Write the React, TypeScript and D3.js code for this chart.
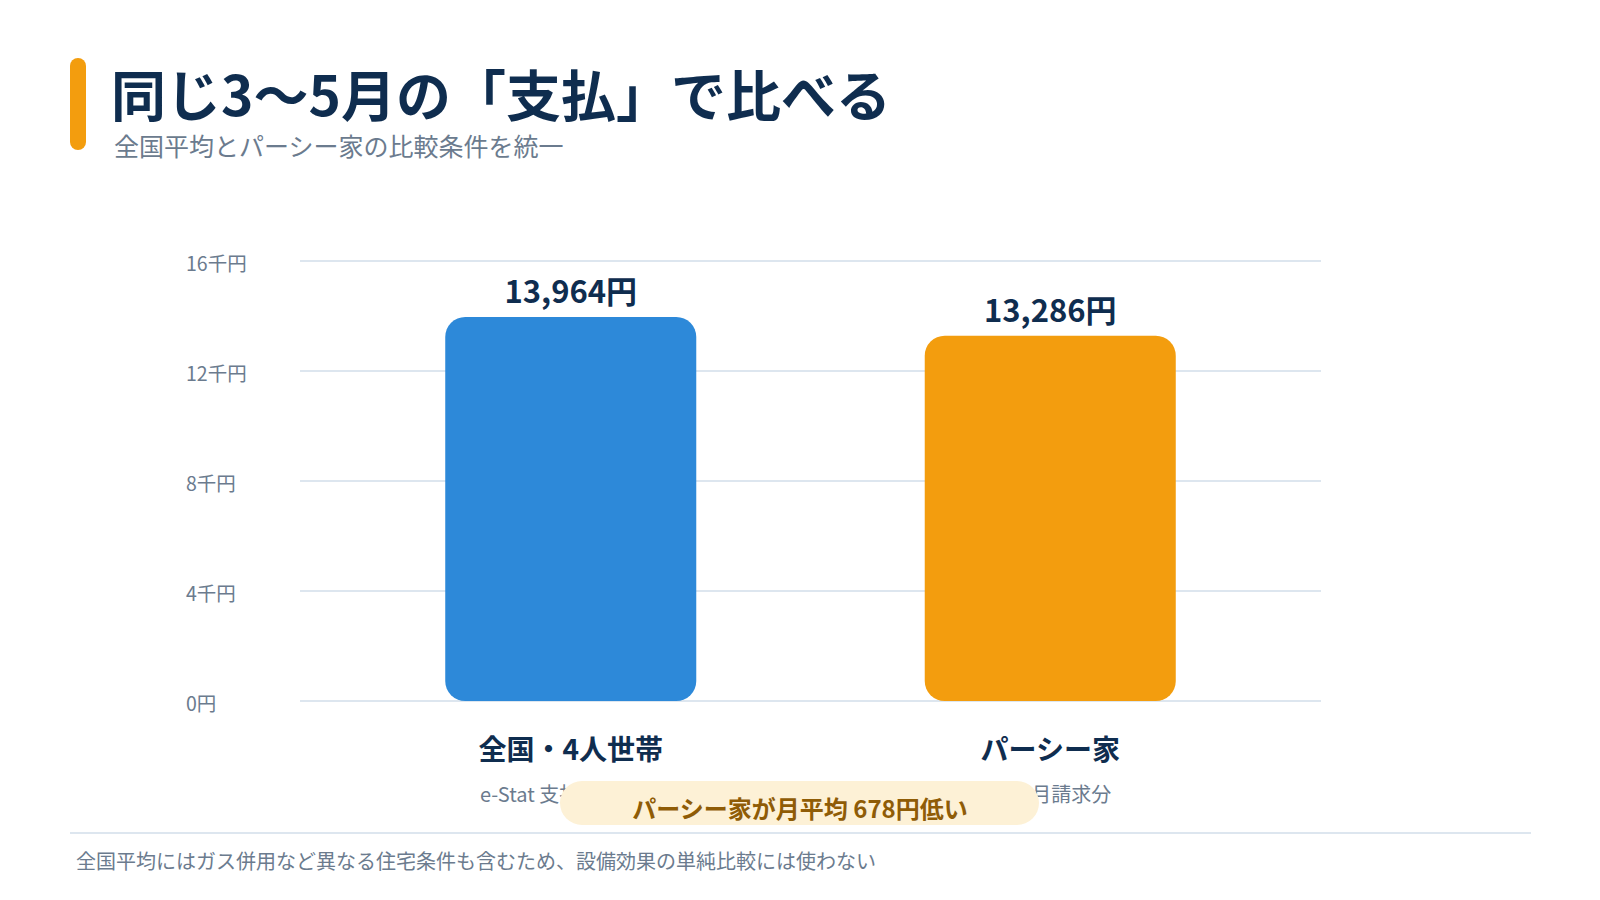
import * as d3 from "d3";

const title = "同じ3〜5月の「支払」で比べる";
const subtitle = "全国平均とパーシー家の比較条件を統一";
const categories = ["全国・4人世帯", "パーシー家"];
const subLabels = ["e-Stat 支払・3〜5月", "3〜5月請求分"];
const values = [13964, 13286];
const barColors = ["#2d89d9", "#f39d0e"];
const yTicks = [0, 4000, 8000, 12000, 16000];
const yTickLabels = ["0円", "4千円", "8千円", "12千円", "16千円"];
const diffNote = "パーシー家が月平均 678円低い";
const footNote = "全国平均にはガス併用など異なる住宅条件も含むため、設備効果の単純比較には使わない";

const FONT = "'Noto Sans CJK JP', 'Noto Sans', sans-serif";
const NAVY = "#0f2d4f";
const GREY = "#6b7b8e";
const GRID = "#dde6ef";

export default function App() {
  const width = 1600;
  const height = 900;

  const y = d3.scaleLinear().domain([0, 16000]).range([701, 261]);
  const x = d3
    .scaleBand<string>()
    .domain(categories)
    .range([331, 1290])
    .paddingInner(0.4765)
    .paddingOuter(0.23825);
  const gridX = [300, 1321];
  const fmt = d3.format(",");

  return (
    <svg
      width={width}
      height={height}
      style={{ position: "absolute", left: 0, top: 0, background: "#fff" }}
      fontFamily={FONT}
    >
      {/* header */}
      <rect x={70} y={58} width={16} height={92} rx={8} fill="#f39d0e" />
      <text x={111} y={116} fontSize={55} fontWeight={700} fill={NAVY}>
        {title}
      </text>
      <text x={114} y={156} fontSize={25} fill={GREY}>
        {subtitle}
      </text>

      {/* grid + y labels */}
      {yTicks.map((t, i) => (
        <g key={t}>
          <line x1={gridX[0]} x2={gridX[1]} y1={y(t)} y2={y(t)} stroke={GRID} strokeWidth={2} />
          <text x={186} y={y(t) + 10} fontSize={19.5} fill={GREY}>
            {yTickLabels[i]}
          </text>
        </g>
      ))}

      {/* bars */}
      {categories.map((c, i) => {
        const bx = x(c)!;
        const bw = x.bandwidth();
        const cx = bx + bw / 2;
        return (
          <g key={c}>
            <rect x={bx} y={y(values[i])} width={bw} height={y(0) - y(values[i])} rx={20} fill={barColors[i]} />
            <text x={cx} y={y(values[i]) - 14} textAnchor="middle" fontSize={31} fontWeight={700} fill={NAVY}>
              {fmt(values[i])}円
            </text>
            <text x={cx} y={760} textAnchor="middle" fontSize={28} fontWeight={700} fill={NAVY}>
              {c}
            </text>
            <text x={cx} y={802} textAnchor="middle" fontSize={20} fill={GREY}>
              {subLabels[i]}
            </text>
          </g>
        );
      })}

      {/* difference pill */}
      <rect x={560} y={781} width={479} height={44} rx={22} fill="#fdf1d6" />
      <text x={800} y={818} textAnchor="middle" fontSize={24} fontWeight={700} fill="#8f5c06">
        {diffNote}
      </text>

      {/* footer */}
      <line x1={70} x2={1531} y1={833} y2={833} stroke={GRID} strokeWidth={2} />
      <text x={76} y={869} fontSize={20} fill={GREY}>
        {footNote}
      </text>
    </svg>
  );
}
